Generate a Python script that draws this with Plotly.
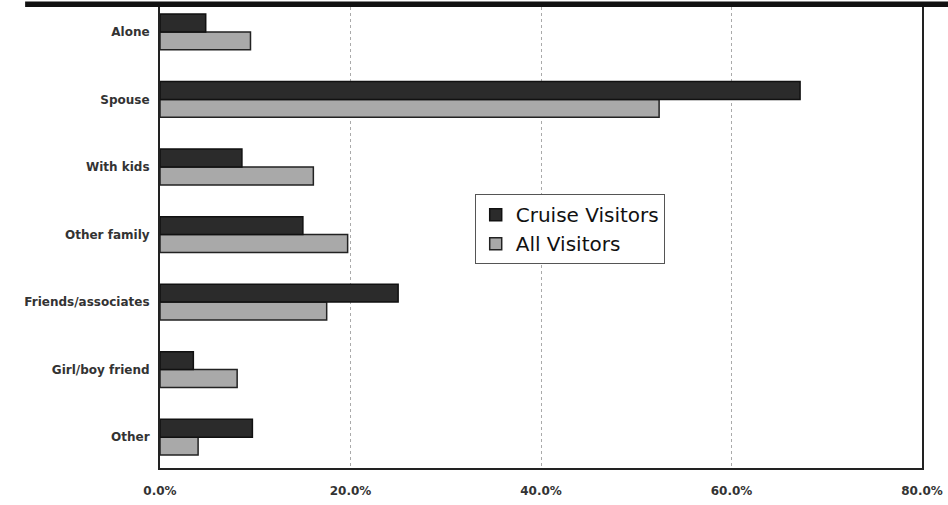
import plotly.graph_objects as go

CATEGORIES = ["Alone", "Spouse", "With kids", "Other family",
              "Friends/associates", "Girl/boy friend", "Other"]
CRUISE = [4.8, 67.2, 8.6, 15.0, 25.0, 3.5, 9.7]
ALL_VISITORS = [9.5, 52.4, 16.1, 19.7, 17.5, 8.1, 4.0]
X_TICKS = [0, 20, 40, 60, 80]
X_TICK_TEXT = ["0.0%", "20.0%", "40.0%", "60.0%", "80.0%"]

# plotly draws the first trace lower in a horizontal group, so All goes first
cats = CATEGORIES[::-1]

fig = go.Figure()
fig.add_trace(go.Bar(
    y=cats, x=ALL_VISITORS[::-1], name="All Visitors", orientation="h",
    marker=dict(color="#a9a9a9", line=dict(color="#222222", width=1.5)),
    legendrank=2,
))
fig.add_trace(go.Bar(
    y=cats, x=CRUISE[::-1], name="Cruise Visitors", orientation="h",
    marker=dict(color="#2b2b2b", line=dict(color="#111111", width=1.5)),
    legendrank=1,
))

tick_font = dict(family="DejaVu Sans", size=12, color="#333333", weight="bold")

fig.update_layout(
    width=948, height=505,
    barmode="group", bargap=0.47, bargroupgap=0.0,
    plot_bgcolor="white", paper_bgcolor="white",
    font=dict(family="DejaVu Sans, Arial", color="#222222", size=12),
    margin=dict(l=160, r=25, t=5, b=37),
    showlegend=True,
    legend=dict(
        x=0.413, y=0.594, xanchor="left", yanchor="top",
        bgcolor="white", bordercolor="#555555", borderwidth=1,
        font=dict(family="DejaVu Sans", size=20, color="#111111"),
        itemwidth=30, tracegroupgap=0,
    ),
    xaxis=dict(
        range=[0, 80], tickvals=X_TICKS, ticktext=X_TICK_TEXT,
        showgrid=True, gridcolor="#aaaaaa", griddash="dot", gridwidth=1,
        showline=True, linecolor="#222222", linewidth=2, mirror=True,
        ticks="", tickfont=tick_font, ticklabelstandoff=11,
        zeroline=False,
    ),
    yaxis=dict(
        range=[-0.457, 6.369], showgrid=False,
        showline=True, linecolor="#222222", linewidth=2, mirror=True,
        ticks="", ticklabelstandoff=6,
        tickfont=tick_font,
    ),
    shapes=[dict(
        type="rect", xref="paper", yref="paper",
        x0=-0.177, x1=1.04, y0=1.0, y1=1.012,
        fillcolor="#111111", line=dict(width=0),
    )],
)

fig.write_html("out.html", config={"displayModeBar": False},
               post_script="document.body.style.margin='0';")
